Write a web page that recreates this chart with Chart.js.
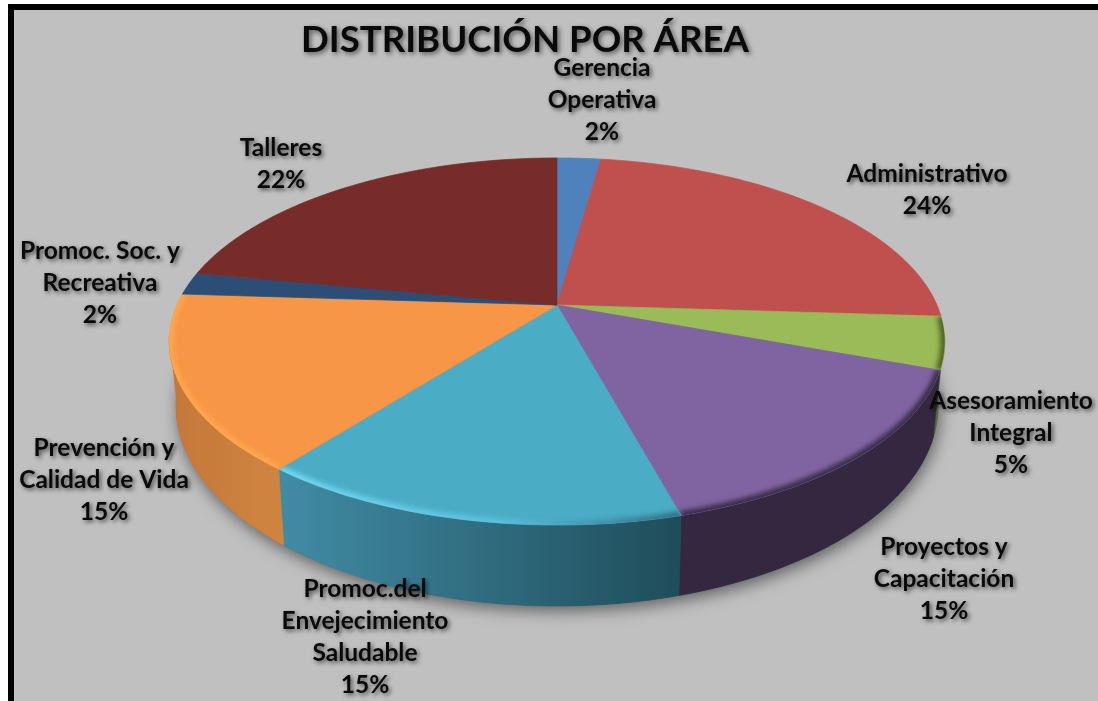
<!DOCTYPE html>
<html>
<head>
<meta charset="utf-8">
<title>Distribución por área</title>
<script src="https://cdn.jsdelivr.net/npm/chart.js@4"></script>
<style>
    html, body { margin: 0; padding: 0; background: #fff; overflow: hidden; }
    #frame { position: absolute; left: 8px; top: 4px; right: 0; bottom: 0; background: #c0c0c0;
             border-left: 6px solid #000; border-top: 6px solid #000; }
    #grafico { position: absolute; left: 0; top: 0; }
</style>
</head>
<body>
<div id="frame"></div>
<canvas id="grafico" width="1098" height="701"></canvas>
<script>
'use strict';

// Datos del gráfico (estimados de los ángulos; la etiqueta muestra el valor redondeado)
const titulo = 'DISTRIBUCIÓN POR ÁREA';
const areas = [
    ['Gerencia', 'Operativa'],
    ['Administrativo'],
    ['Asesoramiento', 'Integral'],
    ['Proyectos y', 'Capacitación'],
    ['Promoc.del', 'Envejecimiento', 'Saludable'],
    ['Prevención y', 'Calidad de Vida'],
    ['Promoc. Soc. y', 'Recreativa'],
    ['Talleres']
];
const porcentajes = [2.2, 23.8, 4.6, 15.15, 14.85, 15.4, 2, 22];

// Colores de cada porción
const colores = ['#4f81bd', '#c0504d', '#9bbb59', '#8064a2', '#4bacc6', '#f79646', '#2c4d75', '#772c2a'];
const paredes = [
    ['#3a5f8c', '#3a5f8c'], ['#8a3a38', '#8a3a38'], ['#6d8440', '#55692f'], ['#33283f', '#33283f'],
    ['#1f4d5a', '#418ca5'], ['#cf8540', '#c4773a'], ['#1f3753', '#1f3753'], ['#541f1e', '#541f1e']
];
const biseles = [null, null, '#4f6425', '#3a2d48', 'cian', '#ffa64f', null, null];

// Centro de cada etiqueta y altura de su primera línea
const etiquetaX = [602, 927, 1011, 944, 365, 104, 100, 281];
const etiquetaY = [68, 174, 401, 547, 589, 448, 251, 148];
const etiquetaPaso = 32;

// Perspectiva del disco: el centro del círculo no cae en el centro de la elipse
const CX = 557, CY = 305, K = 380, PA = 115.6, PC = -0.199;
const ELIPSE_Y = 341.5, ELIPSE_RX = 388, ELIPSE_RY = 183.5;
const BASE_Y = 406, BASE_RX = 381, BASE_RY = 200;

function proyectar(ang) {
    const u = Math.sin(ang), v = -Math.cos(ang);
    const w = 1 / (1 + PC * v);
    return { x: CX + K * u * w, y: (PA * v + CY) * w };
}

function haciaBase(p) {
    let nx = (p.x - CX) / ELIPSE_RX, ny = (p.y - ELIPSE_Y) / ELIPSE_RY;
    const h = Math.hypot(nx, ny);
    nx /= h; ny /= h;
    return { x: CX + BASE_RX * nx, y: BASE_Y + BASE_RY * ny, ny: ny };
}

function puntosArco(arc) {
    const ini = arc.startAngle + Math.PI / 2, fin = arc.endAngle + Math.PI / 2;
    const pasos = Math.max(4, Math.ceil((fin - ini) * 40));
    const pts = [];
    for (let i = 0; i <= pasos; i++) {
        pts.push(proyectar(ini + (fin - ini) * i / pasos));
    }
    return pts;
}

const disco3d = {
    id: 'disco3d',
    beforeDraw(chart) {
        // sombra para el título, se limpia antes de las porciones
        const ctx = chart.ctx;
        ctx.shadowColor = 'rgba(0,0,0,0.55)';
        ctx.shadowBlur = 5;
        ctx.shadowOffsetX = 2;
        ctx.shadowOffsetY = 2;
    },
    beforeDatasetDraw(chart) {
        const ctx = chart.ctx;
        const arcos = chart.getDatasetMeta(0).data;
        ctx.shadowColor = 'transparent';

        // sombra sobre el fondo
        ctx.save();
        ctx.shadowColor = 'rgba(0,0,0,0.5)';
        ctx.shadowBlur = 16;
        ctx.shadowOffsetY = 5;
        ctx.fillStyle = '#555';
        ctx.beginPath();
        ctx.ellipse(CX, BASE_Y, BASE_RX, BASE_RY, 0, 0, Math.PI * 2);
        ctx.fill();
        ctx.restore();

        // paredes
        arcos.forEach((arc, i) => {
            const pts = puntosArco(arc).filter(p => haciaBase(p).ny > -0.05);
            if (pts.length < 2) return;
            const grad = ctx.createLinearGradient(pts[0].x, 0, pts[pts.length - 1].x, 0);
            grad.addColorStop(0, paredes[i][0]);
            grad.addColorStop(1, paredes[i][1]);
            ctx.beginPath();
            pts.forEach((p, n) => n ? ctx.lineTo(p.x, p.y) : ctx.moveTo(p.x, p.y));
            pts.slice().reverse().forEach(p => {
                const b = haciaBase(p);
                ctx.lineTo(b.x, b.y);
            });
            ctx.closePath();
            ctx.fillStyle = grad;
            ctx.strokeStyle = grad;
            ctx.lineWidth = 0.7;
            ctx.fill();
            ctx.stroke();
        });

        // cara superior
        arcos.forEach((arc, i) => {
            const pts = puntosArco(arc);
            const trazar = () => {
                ctx.beginPath();
                ctx.moveTo(CX, CY);
                pts.forEach(p => ctx.lineTo(p.x, p.y));
                ctx.closePath();
            };
            trazar();
            ctx.fillStyle = colores[i];
            ctx.strokeStyle = colores[i];
            ctx.lineWidth = 0.7;
            ctx.fill();
            ctx.stroke();

            if (!biseles[i]) return;
            ctx.save();
            trazar();
            ctx.clip();
            ctx.filter = 'blur(2.5px)';
            if (biseles[i] === 'cian') {
                const g = ctx.createLinearGradient(280, 0, 680, 0);
                g.addColorStop(0, '#74d8f3');
                g.addColorStop(0.55, '#5cc0dc');
                g.addColorStop(1, '#2f6f82');
                ctx.strokeStyle = g;
            } else {
                ctx.strokeStyle = biseles[i];
            }
            ctx.lineWidth = 9;
            ctx.beginPath();
            pts.forEach((p, n) => n ? ctx.lineTo(p.x, p.y) : ctx.moveTo(p.x, p.y));
            ctx.stroke();
            ctx.restore();
        });
        return false; // el dibujo por defecto sería un círculo plano
    },
    afterDatasetsDraw(chart) {
        const ctx = chart.ctx;
        ctx.save();
        ctx.font = 'bold 24.5px Lato';
        ctx.textAlign = 'center';
        ctx.textBaseline = 'middle';
        ctx.fillStyle = '#0a0a0a';
        ctx.shadowColor = 'rgba(0,0,0,0.6)';
        ctx.shadowBlur = 4;
        ctx.shadowOffsetX = 2;
        ctx.shadowOffsetY = 2;
        areas.forEach((lineas, i) => {
            lineas.concat(Math.round(porcentajes[i]) + '%').forEach((txt, n) => {
                ctx.fillText(txt, etiquetaX[i], etiquetaY[i] + n * etiquetaPaso);
            });
        });
        ctx.restore();
    }
};

new Chart(document.getElementById('grafico').getContext('2d'), {
    type: 'pie',
    data: {
        labels: areas,
        datasets: [{ data: porcentajes, backgroundColor: colores, borderWidth: 0 }]
    },
    options: {
        responsive: false,
        animation: false,
        layout: { padding: { right: 48, top: 18 } },
        plugins: {
            legend: { display: false },
            tooltip: { enabled: false },
            title: {
                display: true,
                text: titulo,
                color: '#0a0a0a',
                font: { family: 'Lato', size: 36.6, weight: 'bold' },
                padding: 0
            }
        }
    },
    plugins: [disco3d]
});
</script>
</body>
</html>
